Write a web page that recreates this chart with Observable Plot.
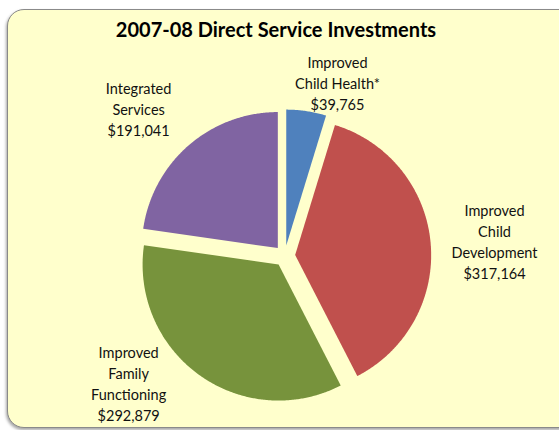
<!DOCTYPE html>
<html><head><meta charset="utf-8">
<script src="https://cdn.jsdelivr.net/npm/d3@7"></script>
<script src="https://cdn.jsdelivr.net/npm/@observablehq/plot@0.6"></script>
<style>
html,body{margin:0;padding:0;background:#fff;}
#wrap{position:relative;width:559px;height:430px;overflow:hidden;}
#frame{position:absolute;left:7px;top:9px;width:590px;height:419px;background:#FFFFCC;border:1.5px solid #8a8a8a;border-radius:17px;box-shadow:-1px 2px 3px rgba(0,0,0,0.35);box-sizing:border-box;}
#chart{position:absolute;left:0;top:0;}
</style></head>
<body><div id="wrap"><div id="frame"></div><div id="chart"></div></div>
<script>
const title = "2007-08 Direct Service Investments";
const categories = ["Improved Child Health*", "Improved Child Development", "Improved Family Functioning", "Integrated Services"];
const labelLines = [["Improved", "Child Health*"], ["Improved", "Child", "Development"], ["Improved", "Family", "Functioning"], ["Integrated", "Services"]];
const values = [39765, 317164, 292879, 191041];
const colors = ["#4F81BD", "#C0504D", "#77933C", "#8064A2"];

// geometry (pixels)
const W = 559, H = 430, cx = 284.2, cy = 255.5, R = 136;
const explode = 10.5 / R;
const labelR = 1.45;
const nudge = [[23.6, 21.1], [13.4, 2.2], [-41.5, -33.9], [-17, 1]];

const arcs = d3.pie().sort(null).value(d => d)(values);
const pts = [];
arcs.forEach((a, i) => {
  const mid = (a.startAngle + a.endAngle) / 2;
  const ox = explode * Math.sin(mid), oy = explode * Math.cos(mid);
  pts.push({cat: categories[i], x: ox, y: oy});
  const n = Math.max(8, Math.ceil((a.endAngle - a.startAngle) / (Math.PI / 360)));
  for (let k = 0; k <= n; k++) {
    const t = a.startAngle + (a.endAngle - a.startAngle) * k / n;
    pts.push({cat: categories[i], x: ox + Math.sin(t), y: oy + Math.cos(t)});
  }
});
const fmt = d3.format(",");
const labels = arcs.map((a, i) => {
  const mid = (a.startAngle + a.endAngle) / 2;
  return {
    text: labelLines[i].join("\n") + "\n$" + fmt(values[i]),
    x: labelR * Math.sin(mid) + nudge[i][0] / R,
    y: labelR * Math.cos(mid) - nudge[i][1] / R
  };
});

const chart = Plot.plot({
  width: W, height: H, margin: 0,
  x: {domain: [-1, 1], range: [cx - R, cx + R], axis: null},
  y: {domain: [-1, 1], range: [cy + R, cy - R], axis: null},
  color: {domain: categories, range: colors},
  style: {background: "transparent", fontFamily: "Lato, sans-serif", color: "#000"},
  marks: [
    Plot.line(pts, {x: "x", y: "y", z: "cat", fill: "cat", stroke: null, curve: "linear-closed"}),
    Plot.text(labels, {x: "x", y: "y", text: "text", fontSize: 14.5, lineHeight: 1.45, lineAnchor: "middle", textAnchor: "middle", fill: "#111"}),
    Plot.text([title], {frameAnchor: "top", lineAnchor: "bottom", dx: -4, dy: 36, fontSize: 20, fontWeight: "bold", fill: "#000"})
  ]
});
document.getElementById("chart").appendChild(chart);
</script>
</body></html>
